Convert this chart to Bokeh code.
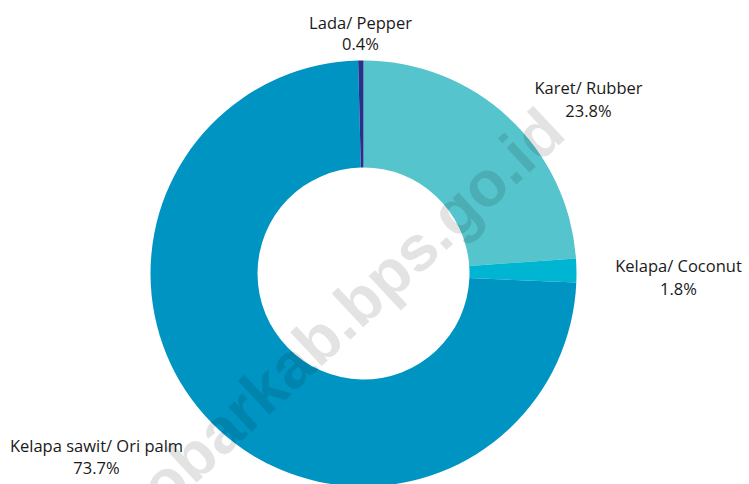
import math
from bokeh.plotting import figure
from bokeh.models import Range1d, ColumnDataSource
from bokeh.core.properties import value
from bokeh.embed import file_html
from bokeh.resources import INLINE

# Data (clockwise from 12 o'clock)
categories = ["Karet/ Rubber", "Kelapa/ Coconut", "Kelapa sawit/ Ori palm", "Lada/ Pepper"]
shares = [23.8, 1.8, 73.7, 0.4]
colors = ["#55C4CC", "#00B5D1", "#0094C2", "#27318A"]
pct_text = [f"{s}%" for s in shares]

W, H = 749, 484
p = figure(width=W, height=H, output_backend="svg", toolbar_location=None,
           x_range=Range1d(0, W), y_range=Range1d(0, H), min_border=0)
p.axis.visible = False
p.grid.visible = False
p.outline_line_color = None
p.background_fill_color = "white"

def sy(v):
    return H - v

cx, cy = 363, sy(273)
total = sum(shares)
starts, ends = [], []
a = math.pi / 2
for s in shares:
    starts.append(a)
    a -= 2 * math.pi * s / total
    ends.append(a)

src = ColumnDataSource(dict(start=starts, end=ends, color=colors))
p.annular_wedge(x=cx, y=cy, inner_radius=106, outer_radius=213,
                inner_radius_units="screen", outer_radius_units="screen",
                start_angle="start", end_angle="end", direction="clock",
                fill_color="color", line_color=None, source=src)

# label positions: center x, baseline of name line, baseline of percent line
lab_x = [588, 678, 96, 360]
name_base = [87, 265, 445, 22]
pct_base = [110, 288, 467, 43]
lsrc = ColumnDataSource(dict(x=lab_x + lab_x,
                             y=[sy(v) for v in name_base] + [sy(v) for v in pct_base],
                             t=categories + pct_text))
p.text(x="x", y="y", text="t", source=lsrc, text_align="center", text_baseline="alphabetic",
       text_font=value("Open Sans"), text_font_size="16.5px", text_color="#1a1a1a")

# watermark
p.text(x=[338], y=[sy(320)], text=["kobarkab.bps.go.id"], angle=math.radians(43),
       text_align="center", text_baseline="alphabetic", text_font=value("Liberation Sans"),
       text_font_style="bold", text_font_size="64px", text_color="black", text_alpha=0.11)

open("out.html", "w").write(file_html(p, INLINE))
